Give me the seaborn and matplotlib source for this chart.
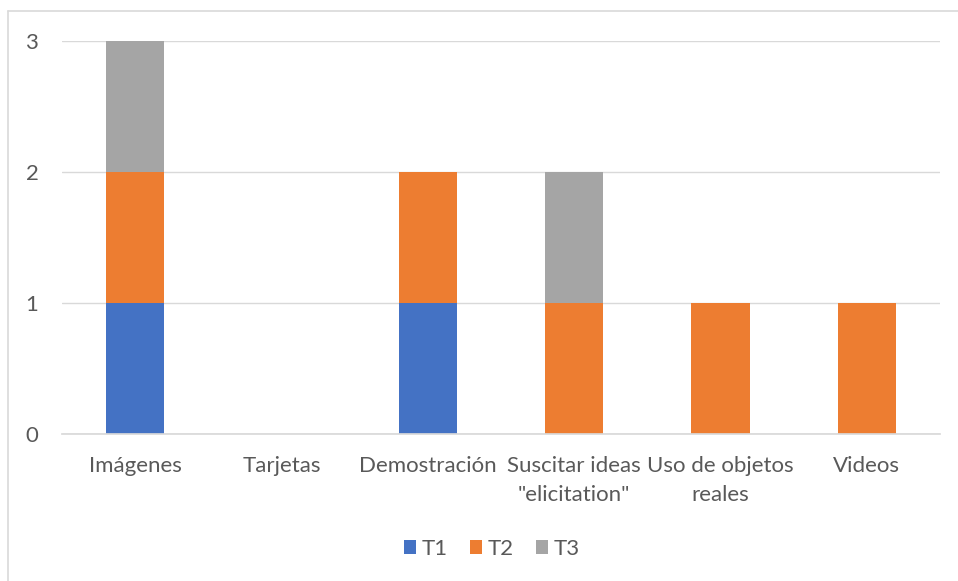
import numpy as np
import pandas as pd
import seaborn as sns
import matplotlib.pyplot as plt
from matplotlib.lines import Line2D
from matplotlib.patches import Patch

categorias = ["Imágenes", "Tarjetas", "Demostración",
              "Suscitar ideas\n\"elicitation\"", "Uso de objetos\nreales", "Videos"]
t1 = [1, 0, 1, 0, 0, 0]
t2 = [1, 0, 1, 1, 1, 1]
t3 = [1, 0, 0, 1, 0, 0]
series = ["T1", "T2", "T3"]
colores = ["#4472C4", "#ED7D31", "#A5A5A5"]

sns.set_theme(style="white")
plt.rcParams['font.family'] = ['Lato', 'DejaVu Sans']

df = pd.DataFrame({"cat": categorias, "T1": t1, "T2": t2, "T3": t3})
df["c1"] = df["T1"]
df["c2"] = df["T1"] + df["T2"]
df["c3"] = df["c2"] + df["T3"]

fig = plt.figure(figsize=(9.58, 5.81), dpi=100)
ax = fig.add_axes([62/958, 1-434/581, (940-62)/958, (434-41)/581])

# stacked look: draw cumulative totals from top series down
for col, c in zip(["c3", "c2", "c1"], colores[::-1]):
    sns.barplot(data=df, x="cat", y=col, color=c, width=0.4,
                saturation=1, ax=ax, linewidth=0)

ax.set_ylim(0, 3)
ax.set_yticks([0, 1, 2, 3])
ax.set_xlim(-0.5, len(categorias) - 0.5)
ax.yaxis.grid(True, color="#D9D9D9", linewidth=1)
ax.set_axisbelow(True)
for s in ax.spines.values():
    s.set_visible(False)
ax.spines["bottom"].set_visible(True)
ax.spines["bottom"].set_color("#D9D9D9")
ax.set_xlabel("")
ax.set_ylabel("")
ax.tick_params(axis="both", colors="#595959", labelsize=16, length=0)
ax.tick_params(axis="y", pad=17)
ax.tick_params(axis="x", pad=16)
for lbl in ax.get_xticklabels():
    lbl.set_linespacing(1.55)

handles = [Patch(facecolor=c, edgecolor="none", label=s) for s, c in zip(series, colores)]
leg = fig.legend(handles=handles, loc="center", bbox_to_anchor=(492/958, 1-549/581),
                 ncol=3, frameon=False, fontsize=16, handlelength=0.55, handleheight=0.55,
                 handletextpad=0.25, columnspacing=1.0)
for t in leg.get_texts():
    t.set_color("#595959")

# chart frame (only top and left edges visible)
fig.lines.append(Line2D([8/958, 1], [1-11/581, 1-11/581], transform=fig.transFigure,
                        color="#D9D9D9", linewidth=1.2))
fig.lines.append(Line2D([8/958, 8/958], [0, 1-11/581], transform=fig.transFigure,
                        color="#D9D9D9", linewidth=1.2))

fig.savefig("out.png", dpi=100)
